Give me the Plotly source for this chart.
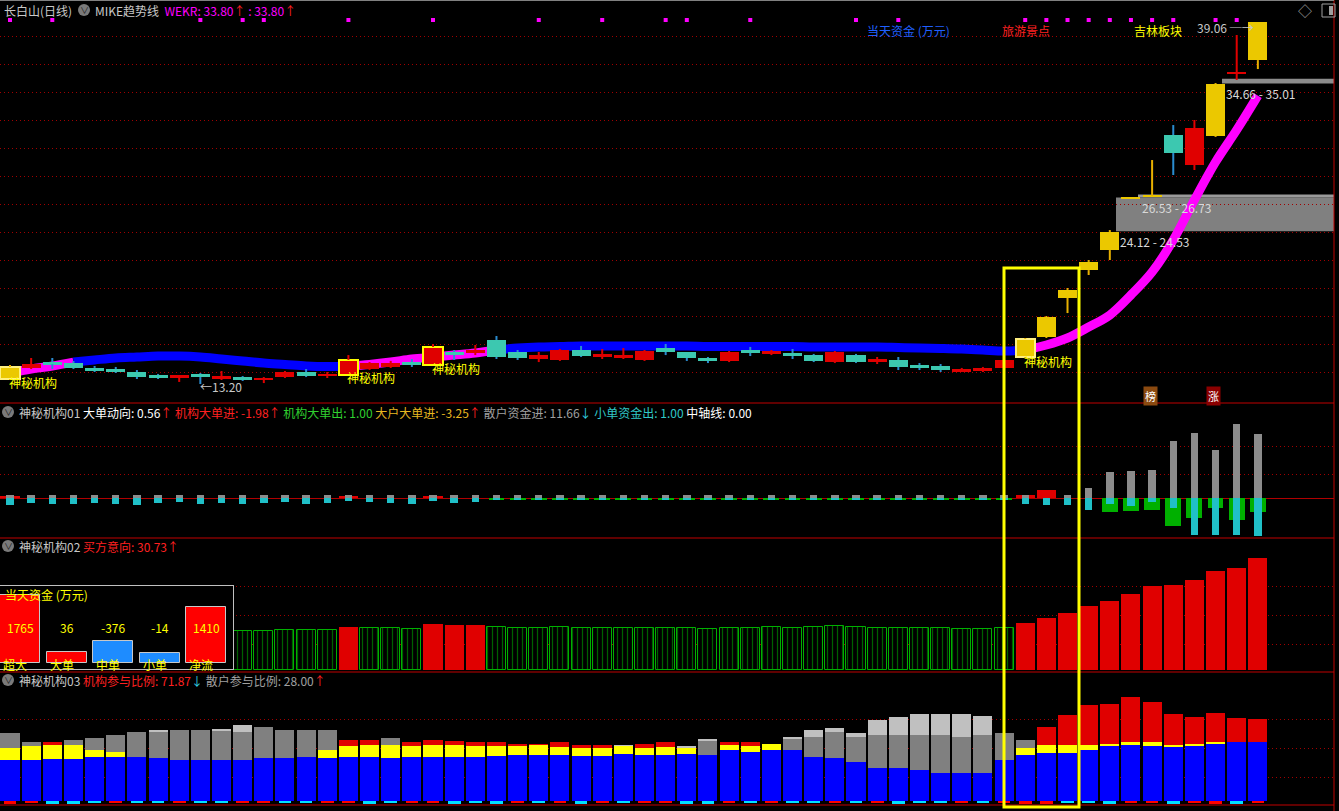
import plotly.graph_objects as go

# ---------------- data ----------------
N = 60
idx = list(range(N))

open_ = [13.56,14.35,14.77,14.70,14.35,14.27,14.06,13.85,13.70,13.92,
         13.63,13.70,13.49,13.70,14.06,13.77,13.85,14.27,14.42,14.77,
         14.56,15.49,15.42,16.35,15.49,14.99,14.92,15.63,15.13,15.13,
         14.92,15.77,15.49,15.06,14.85,15.63,15.35,15.42,15.27,14.77,
         15.27,14.77,14.92,14.56,14.49,14.13,14.13,14.35,15.13,16.56,
         19.35,21.34,22.77,26.42,26.56,30.99,28.85,30.92,35.35,36.34]
high = [14.56,15.06,15.06,14.85,14.49,14.42,14.20,13.92,13.77,13.99,
        14.13,13.77,13.70,14.13,14.27,14.06,15.27,14.77,14.85,14.99,
        16.06,15.63,15.99,16.63,15.63,15.49,15.70,15.92,15.70,15.77,
        15.63,16.06,15.49,15.13,15.56,15.85,15.63,15.70,15.35,15.56,
        15.35,15.13,15.13,14.70,14.63,14.35,14.42,14.99,16.49,18.06,
        20.06,22.06,24.20,26.56,29.20,31.70,32.06,34.70,38.13,39.06]
low = [13.49,14.27,14.27,14.27,14.06,13.99,13.56,13.56,13.35,13.20,
       13.49,13.42,13.27,13.63,13.70,13.63,13.85,14.20,14.35,14.42,
       14.56,14.92,15.27,14.99,14.92,14.77,14.85,15.13,14.99,14.99,
       14.85,15.27,14.85,14.70,14.77,15.20,15.27,14.99,14.77,14.70,
       14.70,14.63,14.20,14.20,14.06,14.06,14.06,14.27,15.06,16.49,
       18.27,20.99,22.06,26.42,26.56,28.13,28.49,30.85,34.92,35.70]
close = [14.42,14.63,14.63,14.35,14.13,14.06,13.70,13.63,13.77,13.70,
         13.77,13.49,13.63,14.06,13.77,13.92,14.92,14.70,14.70,14.56,
         15.85,15.27,15.63,15.13,15.06,15.27,15.63,15.20,15.35,15.27,
         15.56,15.49,15.06,14.85,15.49,15.42,15.56,15.20,14.85,15.49,
         14.77,14.99,14.42,14.35,14.20,14.27,14.35,14.92,16.42,17.99,
         19.92,21.92,24.06,26.56,26.63,29.70,31.49,34.63,35.49,39.06]
candle_kind = list("YRCCCCCCRC" + "RCRRCRRRRC" + "RCRCCRRCRR" +
                   "RCCCRCRCCR" + "CRCCCRRRYY" + "YYYYYCRYRY")
marked = [0, 16, 20, 48]            # 神秘机构 days
signal_days = [0, 2, 9, 11, 12, 16, 20, 25, 28, 31, 32, 35, 40, 42,
               48, 49, 50, 51, 52, 53, 54, 55, 57, 58]

mike = [13.99,14.27,14.49,14.77,14.92,15.06,15.13,15.20,15.20,15.13,
        14.99,14.85,14.70,14.60,14.49,14.45,14.49,14.60,14.77,14.99,
        15.13,15.27,15.42,15.63,15.77,15.85,15.88,15.92,15.92,15.92,
        15.92,15.92,15.92,15.88,15.88,15.88,15.88,15.88,15.85,15.85,
        15.85,15.85,15.81,15.77,15.74,15.70,15.63,15.56,15.63,15.99,
        16.49,17.27,18.13,19.56,21.20,23.49,26.35,29.06,31.35,33.80]
mike_kind = ['M'] * 3 + ['B'] * 13 + ['M'] * 7 + ['B'] * 25 + ['M'] * 12

# price zones (low, high)
zone_a = (34.66, 35.01)
zone_b = (26.53, 26.73)
zone_c = (24.12, 24.53)

# panel 1 (神秘机构01)
p1_gray = [3] * 48 + [3, 0, 3, 10, 26, 27, 28, 57, 65, 48, 74, 64]
p1_red = [2] + [0] * 15 + [2, 0, 0, 0, 2] + [0] * 27 + [3, 8] + [0] * 10
p1_green = [0] * 23 + [-1.5] * 25 + [0, 0, 0, 0, -14, -13, -12, -28, -20, -10, -22, -14]
p1_cyan = [-7, -5, -6, -6, -5, -6, -7, -5, -4, -6, -5, -6, -5, -4, -6, -5, -3, -4, -5, -6,
           -3, -5, -4] + [-2] * 25 + [-6, -7, -7, -12, -6, -8, -4, -10, -37, -37, -37, -38]

# panel 2 (买方意向)
buy_intent = [10.97,10.97,11.25,10.97,11.25,10.97,11.25,10.97,10.97,11.25,
              10.97,10.70,10.70,10.97,10.97,10.97,11.80,11.52,11.52,11.25,
              12.62,12.35,12.35,11.80,11.52,11.52,11.80,11.39,11.39,11.66,
              11.66,11.66,11.39,11.25,11.52,11.52,11.80,11.52,11.80,12.07,
              11.80,11.52,11.52,11.52,11.52,11.25,11.25,11.52,12.89,14.27,
              15.64,17.56,18.93,20.85,23.05,23.32,24.69,27.16,27.98,30.73]
buy_red = [16, 20, 21, 22] + list(range(48, 60))

# panel 3 (参与比例) stacked
p3_blue = [41,41,42,42,44,44,44,43,41,41,41,41,43,43,44,43,44,44,43,44,
           44,44,44,45,46,46,46,45,45,47,46,46,47,46,51,49,51,51,44,43,
           39,33,33,31,28,28,28,41,46,48,48,51,55,56,55,54,55,57,59,59]
p3_yellow = [12,14,14,14,7,5,0,0,0,0,0,0,0,0,0,8,11,12,13,11,
             12,12,11,10,9,10,8,8,8,8,7,8,6,0,5,6,6,0,0,0,
             0,0,0,0,0,0,0,0,7,8,8,5,2,3,4,2,2,2,0,0]
p3_red = [0,0,3,0,0,0,0,0,0,0,0,0,0,0,0,0,6,5,0,4,
          5,4,4,4,2,1,5,3,3,0,4,5,0,0,3,4,0,0,0,0,
          0,0,0,0,0,0,0,0,0,18,30,40,40,45,40,31,27,29,24,23]
p3_gray = [15,4,0,5,12,17,25,26,30,30,29,28,31,28,27,20,0,0,7,0,
           0,0,0,0,0,0,0,0,0,0,0,0,0,14,0,0,0,11,20,26,
           25,33,33,35,38,36,38,27,8,0,0,0,0,0,0,0,0,0,0,0]
p3_light = [0,0,0,0,0,0,0,2,0,0,2,7,0,0,0,0,0,0,0,0,
            0,0,0,0,0,0,0,0,0,1,0,0,2,2,0,0,0,2,7,4,
            4,15,18,21,21,23,19,0,0,0,0,0,0,0,0,0,0,0,0,0]
mark_kind = list("rrcccrccrc" + "crrccrrccr" + "rcccrcrcrc" +
                 "rrccrcrccr" + "crcccrcrrr" + "ccCrrCrRCr")
mark_big = [0, 2, 3, 17, 21, 23, 27, 32, 33, 42, 48, 49, 52, 55, 57, 58]

# 当天资金 (万元)
fund_labels = ['超大', '大单', '中单', '小单', '净流']
fund_vals = [1765, 36, -376, -14, 1410]

# ---------------- geometry helpers ----------------
W, H = 1339, 811
PW = 1334
def fx(px): return px / PW
def fy(py): return 1 - py / H

x_rng = [-0.473, 62.6]
PPU = 14.0                               # main panel pixels per price unit
y_top = 39.06 + 22 / PPU
y_bot = 39.06 - (403 - 22) / PPU

fig = go.Figure()

# MIKE trend band
runs = []
start = 0
for i in range(1, N + 1):
    if i == N or mike_kind[i] != mike_kind[start]:
        runs.append((start, min(i, N - 1), mike_kind[start]))
        start = i
for s, e, k in runs:
    xs = idx[s:e + 1]
    fig.add_trace(go.Scatter(x=xs, y=mike[s:e + 1], mode='lines',
                             line=dict(color='#FF00FF' if k == 'M' else '#0000FF', width=9, shape='spline'),
                             xaxis='x', yaxis='y', hoverinfo='skip'))

# signal dots at top
sig_y = y_top - 20 / PPU
fig.add_trace(go.Scatter(x=signal_days, y=[sig_y] * len(signal_days), mode='markers',
                         marker=dict(symbol='square', size=4, color='#FF00FF'),
                         xaxis='x', yaxis='y', hoverinfo='skip'))

# candles (overlay axis so they sit above the MIKE band)
kinds = {'Y': ('#EBC800', '#E8B000'), 'R': ('#E00000', '#E00000'), 'C': ('#3CC8B0', '#2A8CD0')}
for k, (bc, wc) in kinds.items():
    ii = [i for i in idx if candle_kind[i] == k]
    base = [min(open_[i], close[i]) for i in ii]
    hgt = [max(abs(close[i] - open_[i]), 0.13) for i in ii]
    lw = [2 if i in marked else 0 for i in ii]
    lc = '#FFFF00' if k == 'R' else '#FFF080'
    wx, wy = [], []
    for i in ii:
        top = max(open_[i], close[i]); bot = min(open_[i], close[i])
        if high[i] > top:
            wx += [i, i, None]; wy += [top, high[i], None]
        if low[i] < bot:
            wx += [i, i, None]; wy += [low[i], bot, None]
    fig.add_trace(go.Scatter(x=wx, y=wy, mode='lines', line=dict(color=wc, width=2),
                             xaxis='x', yaxis='y6', hoverinfo='skip'))
    fig.add_trace(go.Bar(x=ii, y=hgt, base=base, width=0.9,
                         marker=dict(color=bc, line=dict(color=lc, width=lw)),
                         xaxis='x', yaxis='y6', hoverinfo='skip'))

# panel 1
fig.add_trace(go.Bar(x=idx, y=p1_green, base=0, width=0.75, marker=dict(color='#00B000', line=dict(width=0)),
                     xaxis='x2', yaxis='y2'))
fig.add_trace(go.Bar(x=idx, y=p1_cyan, base=0, width=0.35, marker=dict(color='#20C0C8', line=dict(width=0)),
                     xaxis='x2', yaxis='y2'))
fig.add_trace(go.Bar(x=idx, y=p1_red, base=0, width=0.9, marker=dict(color='#E00000', line=dict(width=0)),
                     xaxis='x2', yaxis='y2'))
fig.add_trace(go.Bar(x=idx, y=p1_gray, base=0, width=0.35, marker=dict(color='#8C8C8C', line=dict(width=0)),
                     xaxis='x2', yaxis='y2'))

# panel 2
g_i = [i for i in idx if i not in buy_red]
r_i = [i for i in idx if i in buy_red]
fig.add_trace(go.Bar(x=g_i, y=[buy_intent[i] for i in g_i], width=0.9,
                     marker=dict(color='black', line=dict(color='#00B000', width=1),
                                 pattern=dict(shape='|', fgcolor='#00C000', bgcolor='black', size=5, solidity=0.25)),
                     xaxis='x3', yaxis='y3'))
fig.add_trace(go.Bar(x=r_i, y=[buy_intent[i] for i in r_i], width=0.9,
                     marker=dict(color='#E00000', line=dict(width=0)), xaxis='x3', yaxis='y3'))

# panel 3 (stacked via bases)
stack = [('blue', p3_blue, '#0000FF'), ('yellow', p3_yellow, '#FFFF00'), ('red', p3_red, '#E00000'),
         ('gray', p3_gray, '#808080'), ('light', p3_light, '#C0C0C0')]
cum = [0] * N
for name, vals, col in stack:
    fig.add_trace(go.Bar(x=idx, y=vals, base=cum[:], width=0.9, marker=dict(color=col, line=dict(width=0)),
                         xaxis='x4', yaxis='y4'))
    cum = [c + v for c, v in zip(cum, vals)]
mcol = ['#00E0FF' if m in 'cC' else '#FF0000' for m in mark_kind]
mh = [3.5 if i in mark_big else 1.5 for i in idx]
mb = [-3 if i in mark_big else -1.5 for i in idx]
fig.add_trace(go.Bar(x=idx, y=mh, base=mb, width=0.6, marker=dict(color=mcol, line=dict(width=0)),
                     xaxis='x4', yaxis='y4'))

# inset: 当天资金
floor = 304
fcols = ['#FF0000' if v > 0 else '#1E8CFF' for v in fund_vals]
fig.add_trace(go.Bar(x=list(range(5)), y=[abs(v) + floor for v in fund_vals], base=-floor, width=0.86,
                     marker=dict(color=fcols, line=dict(color='#C8C8C8', width=1)),
                     xaxis='x5', yaxis='y5'))

# ---------------- layout ----------------
grid = dict(showgrid=True, gridcolor='#A00000', griddash='1px,3px', gridwidth=1,
            showticklabels=False, ticks='', zeroline=False, showline=False)
xcommon = dict(range=x_rng, visible=False)
fig.update_layout(
    width=W, height=H, margin=dict(l=0, r=5, t=0, b=0),
    paper_bgcolor='black', plot_bgcolor='black', showlegend=False,
    barmode='overlay', bargap=0,
    font=dict(family='Noto Sans CJK SC', size=12, color='#C8C8C8'),
    xaxis=dict(domain=[0, 1], anchor='y', **xcommon),
    xaxis2=dict(domain=[0, 1], anchor='y2', **xcommon),
    xaxis3=dict(domain=[0, 1], anchor='y3', **xcommon),
    xaxis4=dict(domain=[0, 1], anchor='y4', **xcommon),
    yaxis=dict(domain=[fy(403), 1], range=[y_bot, y_top], anchor='x',
               tickvals=list(range(14, 40, 2)), **grid),
    yaxis6=dict(overlaying='y', range=[y_bot, y_top], anchor='x', visible=False),
    yaxis2=dict(domain=[fy(538), fy(403)], range=[-40, 95], anchor='x2', tickvals=[24, 52],
                **{**grid, 'zeroline': True}, zerolinecolor='#B00000', zerolinewidth=1),
    yaxis3=dict(domain=[fy(672), fy(538)], range=[-2 / 3.645, 132 / 3.645], anchor='x3',
                tickvals=[26 / 3.645, 55 / 3.645, 84 / 3.645], **grid),
    yaxis4=dict(domain=[fy(805), fy(672)], range=[-4, 129], anchor='x4', tickvals=[24, 53, 82], **grid),
    xaxis5=dict(domain=[0, fx(233)], range=[-0.43, 4.58], anchor='y5', showline=True, mirror=True,
                linecolor='#C0C0C0', linewidth=1, showgrid=False, zeroline=False, showticklabels=False, ticks=''),
    yaxis5=dict(domain=[fy(669), fy(586)], range=[-487, 2039], anchor='x5', showline=True, mirror=True,
                linecolor='#C0C0C0', linewidth=1, showgrid=False, zeroline=False, showticklabels=False, ticks=''),
)

shapes = []
for py in [403, 538, 672, 805]:
    shapes.append(dict(type='line', xref='paper', yref='paper', x0=0, x1=1, y0=fy(py), y1=fy(py),
                       line=dict(color='#C00000', width=1)))
shapes.append(dict(type='line', xref='paper', yref='paper', x0=1, x1=1, y0=0, y1=1,
                   line=dict(color='#C00000', width=1)))
shapes.append(dict(type='line', xref='paper', yref='paper', x0=0, x1=1, y0=fy(0.5), y1=fy(0.5),
                   line=dict(color='#808080', width=1)))
# zones
shapes.append(dict(type='rect', xref='paper', yref='y', x0=fx(1116), x1=1, y0=zone_c[0], y1=zone_b[0],
                   fillcolor='#808080', line=dict(width=0), layer='below'))
shapes.append(dict(type='rect', xref='paper', yref='y', x0=fx(1138), x1=1, y0=zone_b[0], y1=zone_b[1],
                   fillcolor='#9A9A9A', line=dict(width=0), layer='below'))
shapes.append(dict(type='rect', xref='paper', yref='y', x0=fx(1222), x1=1, y0=zone_a[0], y1=zone_a[1],
                   fillcolor='#8C8C8C', line=dict(width=0), layer='below'))
# highlight rectangle
shapes.append(dict(type='rect', xref='paper', yref='paper', x0=fx(1004), x1=fx(1079), y0=fy(807), y1=fy(268),
                   line=dict(color='#FFFF00', width=3)))
# header icons
for cx, cy in [(84, 10), (8, 412), (8, 546), (8, 680)]:
    shapes.append(dict(type='circle', xref='paper', yref='paper', x0=fx(cx - 6), x1=fx(cx + 6),
                       y0=fy(cy + 6), y1=fy(cy - 6), fillcolor='#7A7A7A', line=dict(width=0)))
shapes.append(dict(type='rect', xref='paper', yref='paper', x0=fx(1322), x1=fx(1335), y0=fy(17), y1=fy(4),
                   line=dict(color='#A0A0A0', width=1)))
shapes.append(dict(type='rect', xref='paper', yref='paper', x0=fx(1329), x1=fx(1333), y0=fy(15), y1=fy(6),
                   fillcolor='#A0A0A0', line=dict(width=0)))

ann = []
def txt(px, py, text, color='#C8C8C8', size=12, anchor='left', **kw):
    ann.append(dict(x=fx(px), y=fy(py), xref='paper', yref='paper', text=text, showarrow=False,
                    xanchor=anchor, yanchor='middle', font=dict(color=color, size=size), **kw))

RED = '#FF2020'
txt(2, 10, '长白山(日线)')
txt(93, 10, "MIKE趋势线  <span style='color:#FF00FF'>WEKR: %.2f</span><span style='color:%s'>↑</span>"
            "<span style='color:#FF00FF'> : %.2f</span><span style='color:%s'>↑</span>" % (mike[-1], RED, mike[-1], RED))
txt(17, 412, "神秘机构01 <span style='color:#FFFFFF'>大单动向: 0.56</span><span style='color:%s'>↑</span> "
             "<span style='color:%s'>机构大单进: -1.98↑</span> <span style='color:#30D030'>机构大单出: 1.00</span> "
             "<span style='color:#E8B820'>大户大单进: -3.25</span><span style='color:%s'>↑</span> "
             "<span style='color:#A0A0A0'>散户资金进: 11.66</span><span style='color:#30D0E0'>↓</span> "
             "<span style='color:#30C8C8'>小单资金出: 1.00</span> <span style='color:#FFFFFF'>中轴线: 0.00</span>"
    % (RED, RED, RED))
txt(17, 546, "神秘机构02 <span style='color:%s'>买方意向: %.2f↑</span>" % (RED, buy_intent[-1]))
txt(17, 680, "神秘机构03 <span style='color:%s'>机构参与比例: 71.87</span><span style='color:#30D0E0'>↓</span> "
             "<span style='color:#A0A0A0'>散户参与比例: 28.00</span><span style='color:%s'>↑</span>" % (RED, RED))
for cx, cy in [(84, 10), (8, 412), (8, 546), (8, 680)]:
    txt(cx, cy, '∨', color='#202020', size=9, anchor='center')

txt(908, 30, '当天资金 (万元)', color='#2060FF', anchor='center')
txt(1026, 30, '旅游景点', color='#FF2020', anchor='center')
txt(1158, 30, '吉林板块', color='#FFFF00', anchor='center')
txt(1305, 10, '◇', color='#A0A0A0', size=14, anchor='center')
txt(1150, 396, '榜', color='#FFFFFF', size=11, anchor='center', bgcolor='#8B4A10')
txt(1213, 396, '涨', color='#FFFFFF', size=11, anchor='center', bgcolor='#8B0000')

# zone labels
txt(1224, 93, '%.2f - %.2f' % zone_a, color='#D8D8D8')
txt(1140, 207, '%.2f - %.2f' % zone_b, color='#D8D8D8')
txt(1118, 241, '%.2f - %.2f' % zone_c, color='#D8D8D8')

# extreme labels
imin = low.index(min(low)); imax = high.index(max(high))
ann.append(dict(x=imin, y=low[imin], xref='x', yref='y', text='←%.2f' % low[imin], showarrow=False,
                xanchor='left', yanchor='middle', xshift=-2, yshift=-2, font=dict(color='#C8C8C8', size=12)))
ann.append(dict(x=imax, y=high[imax], xref='x', yref='y', text='%.2f ─→' % high[imax], showarrow=False,
                xanchor='right', yanchor='middle', xshift=-2, yshift=-5, font=dict(color='#C8C8C8', size=12)))
# 神秘机构 labels
for i in marked:
    ann.append(dict(x=i, y=low[i], xref='x', yref='y', text='神秘机构', showarrow=False,
                    xanchor='left', yanchor='middle', xshift=-3, yshift=-3, font=dict(color='#FFFF00', size=12)))

# inset texts
txt(3, 594, '当天资金 (万元)', color='#FFFF00')
for k, (lab, v) in enumerate(zip(fund_labels, fund_vals)):
    ann.append(dict(x=k, y=fy(627), xref='x5', yref='paper', text=str(v), showarrow=False,
                    xanchor='center', yanchor='middle', font=dict(color='#FFFF00', size=12)))
    ann.append(dict(x=k, y=fy(664), xref='x5', yref='paper', text=lab, showarrow=False,
                    xanchor='center', yanchor='middle', xshift=-5, font=dict(color='#FFFF00', size=12)))

fig.update_layout(shapes=shapes, annotations=ann)
fig.write_html('out.html', config={'displayModeBar': False},
               post_script="document.body.style.margin='0px';document.body.style.background='black';")
